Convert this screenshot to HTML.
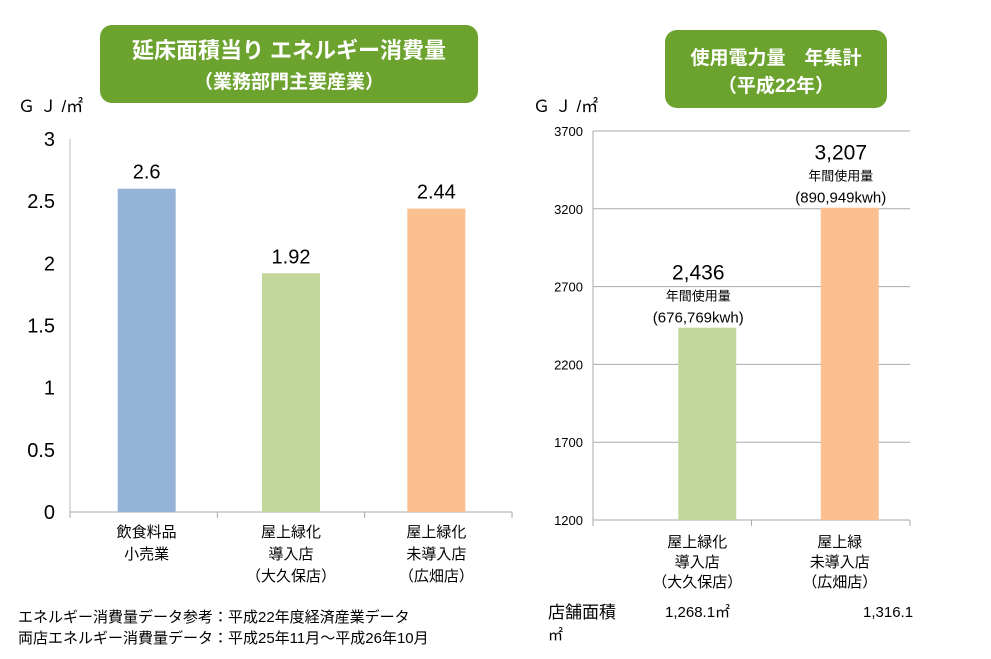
<!DOCTYPE html>
<html><head><meta charset="utf-8">
<style>
body{margin:0;width:991px;height:654px;background:#fff;overflow:hidden;font-family:"Liberation Sans","Noto Sans CJK JP",sans-serif;}
svg text{font-family:"Liberation Sans","Noto Sans CJK JP",sans-serif;}
</style></head>
<body>
<svg id="c" width="991" height="654">
<rect x="100" y="25" width="378" height="78" rx="12" fill="#6ba32e"/>
<text x="289" y="58" font-size="22" font-weight="bold" fill="#fff" text-anchor="middle">延床面積当り エネルギー消費量</text>
<text x="289" y="88" font-size="19" font-weight="bold" fill="#fff" text-anchor="middle">（業務部門主要産業）</text>
<rect x="665" y="30" width="222" height="78" rx="12" fill="#6ba32e"/>
<text x="776" y="64" font-size="19" font-weight="bold" fill="#fff" text-anchor="middle">使用電力量　年集計</text>
<text x="776" y="92" font-size="19" font-weight="bold" fill="#fff" text-anchor="middle">（平成22年）</text>
<text x="18" y="112" font-size="17">Ｇ Ｊ /㎡</text>
<text x="533" y="112" font-size="17">Ｇ Ｊ /㎡</text>
<text x="18" y="622" font-size="15">エネルギー消費量データ参考：平成22年度経済産業データ</text>
<text x="18" y="643" font-size="15">両店エネルギー消費量データ：平成25年11月～平成26年10月</text>
<text x="548" y="618" font-size="17">店舗面積</text>
<text x="548" y="640" font-size="15">㎡</text>
<text x="665" y="617" font-size="15">1,268.1㎡</text>
<text x="863" y="617" font-size="15">1,316.1</text>
<g id="L"></g><g id="R"></g>
</svg>
<script>
const leftCats=[["飲食料品","小売業"],["屋上緑化","導入店","（大久保店）"],["屋上緑化","未導入店","（広畑店）"]];
const leftVals=[2.6,1.92,2.44];
const leftLabels=["2.6","1.92","2.44"];
const leftTicks=[0,0.5,1,1.5,2,2.5,3];
const colors=["#95b3d7","#c4d79b","#fac090"];
const rightCats=[["屋上緑化","導入店","（大久保店）"],["屋上緑","未導入店","（広畑店）"]];
const rightVals=[2436,3207];
const rightLabels=["2,436","3,207"];
const rightSub=["(676,769kwh)","(890,949kwh)"];
const rightTicks=[1200,1700,2200,2700,3200,3700];
const NS="http://www.w3.org/2000/svg";
function mk(p,t,a,txt){const e=document.createElementNS(NS,t);for(const k in a)e.setAttribute(k,a[k]);if(txt!==undefined)e.textContent=txt;p.appendChild(e);return e;}
// left
const L=document.getElementById('L');
const lx0=70,lx1=512,ly0=512,ly1=139;
const ly=v=>ly0-(v/3)*(ly0-ly1);
const lstep=(lx1-lx0)/leftVals.length;
mk(L,'line',{x1:lx0,y1:ly1,x2:lx0,y2:ly0,stroke:'#bbb'});
leftTicks.forEach(t=>{const e=mk(L,'text',{x:55,y:ly(t)+7,'font-size':20,'text-anchor':'end'},String(t));

});
mk(L,'line',{x1:lx0,y1:ly0,x2:lx1,y2:ly0,stroke:'#aaa'});
for(let i=0;i<=leftVals.length;i++)mk(L,'line',{x1:lx0+i*lstep,y1:ly0,x2:lx0+i*lstep,y2:ly0+6,stroke:'#aaa'});
leftVals.forEach((v,i)=>{const cx=lx0+lstep*(i+0.5)+(i===0?3:(i===2?-2:0));
const r=mk(L,'rect',{x:cx-29,y:ly(v),width:58,height:ly0-ly(v),fill:colors[i]});


const t=mk(L,'text',{x:cx,y:ly(v)-10,'font-size':20,'text-anchor':'middle'},leftLabels[i]);


leftCats[i].forEach((s,j)=>{const c=mk(L,'text',{x:cx,y:537+j*22,'font-size':15,'text-anchor':'middle'},s);

});});
// right
const R=document.getElementById('R');
const rx0=593,rx1=910,ry0=520,ry1=131;
const ry=v=>ry0-(v-1200)/2500*(ry0-ry1);
const rstep=(rx1-rx0)/rightVals.length;
rightTicks.forEach(t=>{mk(R,'line',{x1:rx0,y1:ry(t),x2:rx1,y2:ry(t),stroke:'#aaa'});
const e=mk(R,'text',{x:583,y:ry(t)+5,'font-size':13,'text-anchor':'end'},String(t));

});
mk(R,'line',{x1:rx0,y1:ry1,x2:rx0,y2:ry0,stroke:'#aaa'});
for(let i=0;i<=rightVals.length;i++)mk(R,'line',{x1:rx0+i*rstep,y1:ry0,x2:rx0+i*rstep,y2:ry0+6,stroke:'#aaa'});
rightVals.forEach((v,i)=>{const cx=rx0+rstep*(i+0.5)+(i?19:35);
const r=mk(R,'rect',{x:cx-29,y:ry(v),width:58,height:ry0-ry(v),fill:colors[i+1]});


const t=mk(R,'text',{x:cx-9,y:ry(v)-48,'font-size':21,'text-anchor':'middle'},rightLabels[i]);


const u=mk(R,'text',{x:cx-9,y:ry(v)-27,'font-size':13,'text-anchor':'middle'},"年間使用量");


const k=mk(R,'text',{x:cx-9,y:ry(v)-5,'font-size':15,'text-anchor':'middle'},rightSub[i]);


rightCats[i].forEach((s,j)=>{const c=mk(R,'text',{x:cx-10,y:547+j*20,'font-size':15,'text-anchor':'middle'},s);

});});
</script>
</body></html>
